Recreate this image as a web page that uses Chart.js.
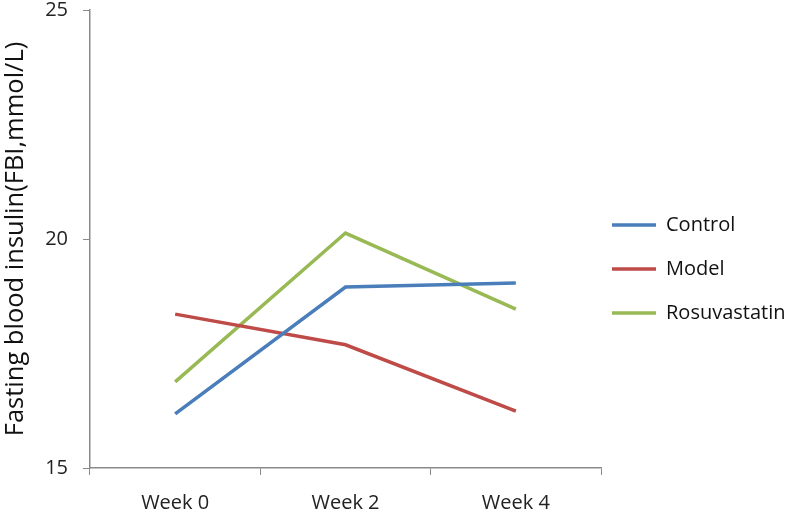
<!DOCTYPE html>
<html>
<head>
<meta charset="utf-8">
<script src="https://cdn.jsdelivr.net/npm/chart.js@4.4.1/dist/chart.umd.min.js"></script>
<style>
  html, body { margin: 0; padding: 0; background: #fff; }
  #wrap { width: 786px; height: 513px; }
</style>
</head>
<body>
<div id="wrap"><canvas id="insulinChart" width="786" height="513"></canvas></div>
<script>
// data
const weeks = ['Week 0', 'Week 2', 'Week 4'];
const controlValues = [16.18, 18.95, 19.04];
const modelValues = [18.36, 17.69, 16.24];
const rosuvastatinValues = [16.88, 20.13, 18.47];
const yTicks = [15, 20, 25];

const seriesNames = ['Control', 'Model', 'Rosuvastatin'];
const seriesColors = ['#4a7ebb', '#be4b48', '#98b954'];
const seriesValues = [controlValues, modelValues, rosuvastatinValues];

const axisColor = '#8a8a8a';
const fontFamily = '"Open Sans", "Noto Sans", sans-serif';
const legendFontSize = 20;
const legendPadding = 44 - legendFontSize;

// move the legend a bit: items start just right of the plot, rows sit lower
const legendNudge = {
    id: 'legendNudge',
    afterLayout(chart) {
        const legend = chart.legend;
        legend.left -= legendPadding - 11;
        legend.top += 12.5;
        legend.bottom += 12.5;
    }
};

const ctx = document.getElementById('insulinChart').getContext('2d');
const insulinChart = new Chart(ctx, {
    type: 'line',
    data: {
        labels: weeks,
        datasets: seriesNames.map((name, i) => ({
            label: name,
            data: seriesValues[i],
            borderColor: seriesColors[i],
            backgroundColor: seriesColors[i],
            borderWidth: 3.5,
            pointRadius: 0,
            pointStyle: 'line',
            tension: 0,
            fill: false
        }))
    },
    options: {
        responsive: false,
        animation: false,
        layout: { padding: 0 },
        scales: {
            x: {
                offset: true,
                grid: {
                    drawOnChartArea: false,
                    offset: true,
                    tickLength: 7,
                    color: axisColor
                },
                border: { color: axisColor, width: 1.5 },
                ticks: {
                    color: '#222',
                    padding: 16,
                    font: { family: fontFamily, size: 20 }
                },
                afterFit: (scale) => { scale.height = 45; }
            },
            y: {
                min: 15,
                max: 25,
                afterBuildTicks: (scale) => {
                    scale.ticks = yTicks.map(v => ({ value: v }));
                },
                grid: {
                    drawOnChartArea: false,
                    tickLength: 7,
                    color: axisColor
                },
                border: { color: axisColor, width: 1.5 },
                ticks: {
                    color: '#222',
                    padding: 15,
                    font: { family: fontFamily, size: 20 }
                },
                title: {
                    display: true,
                    text: 'Fasting blood insulin(FBI,mmol/L)',
                    color: '#111',
                    padding: { top: 0, bottom: 0 },
                    font: { family: fontFamily, size: 25.5 }
                },
                afterFit: (scale) => {
                    scale.width = 90;
                    scale.paddingTop = 10;
                }
            }
        },
        plugins: {
            legend: {
                position: 'right',
                align: 'center',
                maxWidth: 185,
                labels: {
                    usePointStyle: true,
                    pointStyleWidth: 44,
                    boxWidth: 44,
                    padding: legendPadding,
                    color: '#111',
                    font: { family: fontFamily, size: legendFontSize }
                }
            },
            tooltip: { enabled: false }
        }
    },
    plugins: [legendNudge]
});
</script>
</body>
</html>
